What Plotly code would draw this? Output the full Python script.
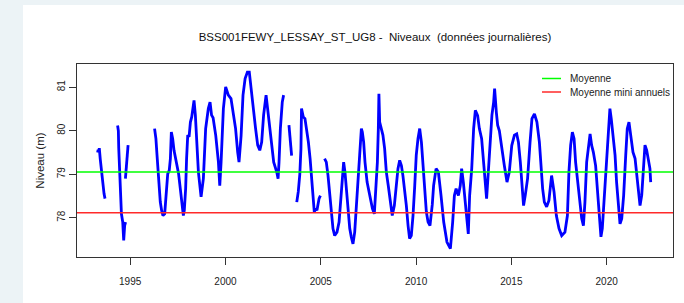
import plotly.graph_objects as go

# ---------------- data ----------------
title_text = "BSS001FEWY_LESSAY_ST_UG8 -  Niveaux  (données journalières)"
y_label = "Niveau (m)"
x_tick_vals = [1995, 2000, 2005, 2010, 2015, 2020]
y_tick_vals = [78, 79, 80, 81]
mean_level = 79.05          # "Moyenne"
mean_annual_min = 78.115    # "Moyenne mini annuels"
legend_labels = ["Moyenne", "Moyenne mini annuels"]

# decimal years ; None marks a gap in the record
years = [
    1993.29, 1993.32, 1993.35, 1993.38, 1993.43, 1993.49, 1993.56, 1993.63, 1993.68,
    None,
    1994.34, 1994.38, 1994.40, 1994.45, 1994.50, 1994.54, 1994.61, 1994.66, 1994.71, 1994.76,
    None,
    1994.75, 1994.80, 1994.83, 1994.89,
    None,
    1996.28, 1996.35, 1996.41, 1996.46, 1996.51, 1996.58, 1996.65, 1996.72, 1996.81, 1996.86,
    1996.90, 1996.97, 1997.05, 1997.11, 1997.16, 1997.23, 1997.30, 1997.39, 1997.46, 1997.54,
    1997.63, 1997.72, 1997.79, 1997.84, 1997.91, 1997.96, 1998.02, 1998.09, 1998.16, 1998.23,
    1998.30, 1998.35, 1998.42, 1998.50, 1998.58, 1998.72, 1998.84, 1998.96, 1999.10, 1999.19,
    1999.27, 1999.35, 1999.49, 1999.63, 1999.70, 1999.77, 1999.89, 2000.01, 2000.15, 2000.29,
    2000.41, 2000.53, 2000.64, 2000.71, 2000.82, 2000.92, 2001.03, 2001.15, 2001.25, 2001.34,
    2001.46, 2001.58, 2001.69, 2001.80, 2001.90, 2002.00, 2002.13, 2002.25, 2002.39, 2002.53,
    2002.69, 2002.76, 2002.81, 2002.88, 2002.98, 2003.05,
    None,
    2003.33, 2003.40, 2003.47,
    None,
    2003.74, 2003.82, 2003.90, 2003.96, 2003.99, 2004.08, 2004.17, 2004.26, 2004.35, 2004.44,
    2004.52, 2004.61, 2004.66, 2004.73, 2004.80, 2004.91, 2004.98,
    None,
    2005.20, 2005.29, 2005.38, 2005.47, 2005.55, 2005.64, 2005.73, 2005.85, 2005.96, 2006.03,
    2006.11, 2006.20, 2006.27, 2006.34, 2006.43, 2006.52, 2006.60, 2006.69, 2006.78, 2006.87,
    2006.95, 2007.04, 2007.13, 2007.18, 2007.25, 2007.32, 2007.43, 2007.57, 2007.71, 2007.81,
    2007.88, 2007.97, 2008.02, 2008.05, 2008.09, 2008.16, 2008.26, 2008.35, 2008.44, 2008.54,
    2008.65, 2008.75, 2008.86, 2008.96, 2009.05, 2009.14, 2009.23, 2009.31, 2009.40, 2009.49,
    2009.58, 2009.66, 2009.75, 2009.84, 2009.93, 2010.01, 2010.10, 2010.19, 2010.28, 2010.36,
    2010.45, 2010.54, 2010.63, 2010.73, 2010.85, 2010.92, 2011.05, 2011.17, 2011.31, 2011.45,
    2011.62, 2011.80, 2011.92, 2012.01, 2012.10, 2012.22, 2012.32, 2012.39, 2012.48, 2012.57,
    2012.67, 2012.74, 2012.81, 2012.92, 2013.02, 2013.11, 2013.23, 2013.32, 2013.44, 2013.55,
    2013.63, 2013.70, 2013.79, 2013.90, 2013.98, 2014.07, 2014.12, 2014.21, 2014.28, 2014.37,
    2014.49, 2014.63, 2014.77, 2014.89, 2015.02, 2015.16, 2015.28, 2015.37, 2015.47, 2015.56,
    2015.64, 2015.73, 2015.85, 2015.98, 2016.08, 2016.21, 2016.34, 2016.47, 2016.55, 2016.64,
    2016.73, 2016.85, 2016.97, 2017.04, 2017.11, 2017.24, 2017.36, 2017.50, 2017.64, 2017.81,
    2017.94, 2018.02, 2018.11, 2018.20, 2018.29, 2018.37, 2018.48, 2018.58, 2018.69, 2018.78,
    2018.86, 2018.95, 2019.04, 2019.13, 2019.21, 2019.30, 2019.42, 2019.53, 2019.63, 2019.70,
    2019.77, 2019.86, 2019.95, 2020.05, 2020.12, 2020.17, 2020.24, 2020.33, 2020.44, 2020.52,
    2020.61, 2020.70, 2020.79, 2020.89, 2021.00, 2021.08, 2021.17, 2021.26, 2021.38, 2021.49,
    2021.57, 2021.66, 2021.75, 2021.84, 2021.92, 2022.01, 2022.10, 2022.19, 2022.27, 2022.31,
]

# groundwater level (m)
levels = [
    79.50, 79.56, 79.52, 79.60, 79.35, 79.05, 78.80, 78.55, 78.44,
    None,
    80.12, 80.00, 79.60, 79.05, 78.51, 78.09, 77.90, 77.48, 77.82, 77.90,
    None,
    78.90, 79.28, 79.51, 79.67,
    None,
    80.05, 79.82, 79.43, 79.05, 78.67, 78.36, 78.17, 78.05, 78.09, 78.44,
    78.74, 79.01, 79.09, 79.36, 79.97, 79.82, 79.55, 79.36, 79.21, 79.01,
    78.67, 78.21, 78.05, 78.17, 78.67, 79.36, 79.90, 79.86, 80.20, 80.32,
    80.51, 80.70, 80.36, 79.60, 79.05, 78.48, 78.90, 80.05, 80.51, 80.66,
    80.36, 80.30, 79.89, 79.28, 78.74, 79.28, 80.51, 81.01, 80.82, 80.74,
    80.43, 80.05, 79.51, 79.28, 79.89, 80.82, 81.20, 81.35, 81.35, 80.97,
    80.51, 80.05, 79.67, 79.55, 79.74, 80.36, 80.82, 80.36, 79.82, 79.28,
    79.05, 78.90, 79.28, 80.05, 80.66, 80.82,
    None,
    80.13, 79.80, 79.43,
    None,
    78.36, 78.60, 79.00, 79.59, 80.51, 80.32, 80.28, 80.05, 79.74, 79.36,
    78.82, 78.36, 78.13, 78.21, 78.17, 78.44, 78.51,
    None,
    79.36, 79.28, 78.97, 78.51, 78.05, 77.75, 77.59, 77.67, 77.90, 78.36,
    78.82, 79.28, 79.05, 78.67, 78.13, 77.75, 77.56, 77.40, 77.67, 78.21,
    78.82, 79.44, 80.05, 79.97, 79.74, 79.28, 78.82, 78.51, 78.21, 78.09,
    78.51, 79.28, 80.05, 80.85, 80.20, 80.05, 79.90, 79.59, 79.05, 78.74,
    78.36, 78.05, 78.28, 78.67, 79.13, 79.32, 79.20, 78.97, 78.67, 78.28,
    77.82, 77.52, 77.59, 78.05, 78.74, 79.44, 79.82, 80.05, 79.74, 79.28,
    78.59, 78.13, 77.90, 77.82, 78.30, 78.74, 79.13, 79.05, 78.51, 77.90,
    77.44, 77.29, 77.90, 78.51, 78.67, 78.51, 78.74, 79.13, 78.82, 78.36,
    77.82, 77.63, 78.51, 79.13, 80.05, 80.47, 80.35, 80.05, 79.82, 79.20,
    78.67, 78.44, 79.05, 79.74, 80.36, 80.66, 80.97, 80.43, 80.13, 80.00,
    79.59, 79.20, 78.82, 79.05, 79.66, 79.90, 79.93, 79.74, 79.28, 78.67,
    78.28, 78.52, 78.90, 79.74, 80.28, 80.39, 80.20, 79.74, 79.20, 78.67,
    78.36, 78.25, 78.40, 78.70, 78.97, 78.59, 78.05, 77.75, 77.59, 77.67,
    78.05, 79.05, 79.67, 79.97, 79.82, 79.28, 78.82, 78.36, 77.98, 77.82,
    78.36, 79.28, 79.67, 79.93, 79.67, 79.51, 79.20, 78.51, 77.90, 77.56,
    77.75, 78.36, 79.13, 79.82, 80.13, 80.51, 80.28, 79.90, 79.44, 78.82,
    78.28, 77.86, 77.98, 78.51, 79.44, 80.05, 80.20, 79.90, 79.51, 79.36,
    79.05, 78.59, 78.28, 78.52, 79.05, 79.67, 79.55, 79.36, 79.13, 78.82,
]

x_range = [1992.21, 2023.48]
y_range = [77.097, 81.536]

# ---------------- figure ----------------
FONT = "Liberation Sans, Arial, sans-serif"
BLUE = "#0000ff"
GREEN = "#00ff00"
RED = "#ff2a2a"

fig = go.Figure()
fig.add_trace(go.Scatter(
    x=years, y=levels, mode="lines",
    line=dict(color=BLUE, width=2.8),
    connectgaps=False, showlegend=False, hoverinfo="x+y",
))

# horizontal reference lines
for val, col in [(mean_level, GREEN), (mean_annual_min, RED)]:
    fig.add_hline(y=val, line=dict(color=col, width=1.5), layer="above")

# white page panel on the light blue-grey background
fig.add_shape(type="rect", xref="paper", yref="paper",
              x0=(23 - 77) / 596, x1=(684 - 77) / 596,
              y0=(257 - 303) / 193, y1=(257 - 5) / 193,
              fillcolor="white", line=dict(width=0), layer="below")

# manual legend (compact, like the R legend)
leg_cols = [GREEN, RED]
leg_y = [(257 - 78.5) / 193, (257 - 92) / 193]
for lab, col, yy in zip(legend_labels, leg_cols, leg_y):
    fig.add_shape(type="line", xref="paper", yref="paper",
                  x0=(542 - 77) / 596, x1=(561 - 77) / 596, y0=yy, y1=yy,
                  line=dict(color=col, width=1.5))
    fig.add_annotation(xref="paper", yref="paper", x=(568 - 77) / 596, y=yy,
                       text=lab, showarrow=False, xanchor="left", yanchor="middle",
                       font=dict(family=FONT, size=10, color="#222"))

fig.update_layout(
    width=684, height=303, autosize=False,
    margin=dict(l=77, r=11, t=64, b=46),
    paper_bgcolor="#ecf3f6", plot_bgcolor="white",
    font=dict(family=FONT, size=10, color="#222"),
    title=dict(text=title_text, x=(375) / 684, xanchor="center",
               y=1 - 37 / 303, yanchor="middle",
               font=dict(family=FONT, size=11.5, color="#111")),
    showlegend=False,
)
fig.update_xaxes(
    range=x_range, tickmode="array", tickvals=x_tick_vals,
    ticktext=[str(v) for v in x_tick_vals],
    ticks="outside", ticklen=7, tickwidth=1, tickcolor="#333",
    showline=True, linecolor="#333", linewidth=1, mirror=True,
    showgrid=False, zeroline=False, ticklabelstandoff=8,
    tickfont=dict(family=FONT, size=10, color="#222"),
)
fig.update_yaxes(
    range=y_range, tickmode="array", tickvals=y_tick_vals,
    ticktext=[str(v) for v in y_tick_vals], tickangle=-90,
    ticks="outside", ticklen=7, tickwidth=1, tickcolor="#333",
    showline=True, linecolor="#333", linewidth=1, mirror=True,
    showgrid=False, zeroline=False,
    tickfont=dict(family=FONT, size=10, color="#222"),
    title=dict(text=y_label, font=dict(family=FONT, size=11.5, color="#222"), standoff=8),
)

fig.write_html("out.html", config={"displayModeBar": False},
               post_script="document.body.style.margin='0';")
